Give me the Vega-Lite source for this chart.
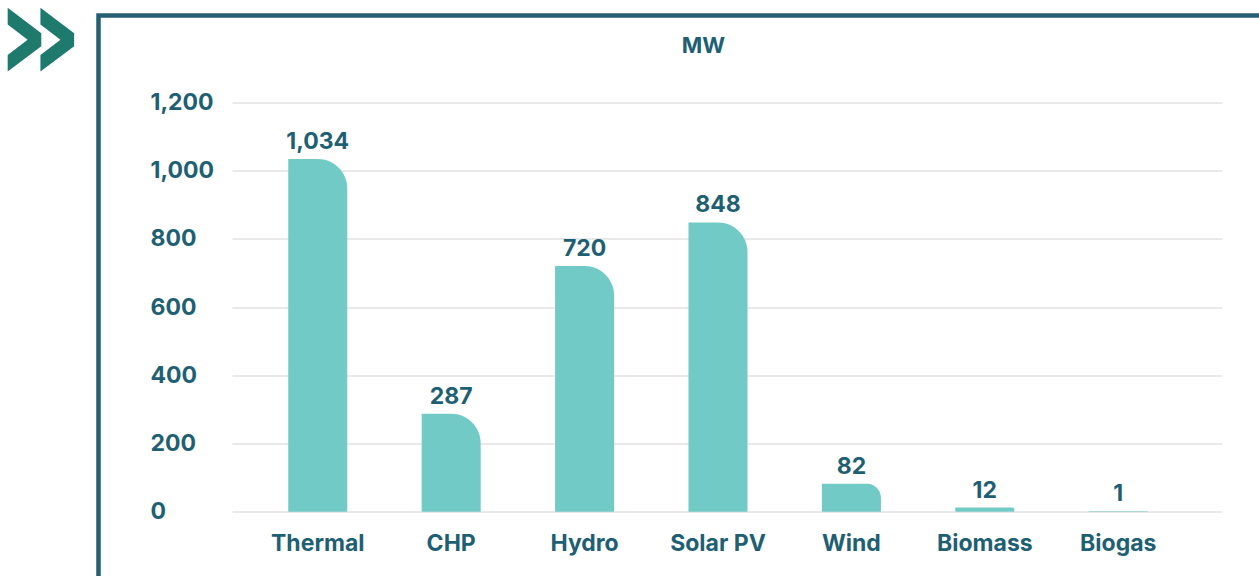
{
  "$schema": "https://vega.github.io/schema/vega-lite/v6.json",
  "width": 1165.5,
  "height": 565.5,
  "autosize": {"type": "none"},
  "padding": {"left": 98.5, "top": 15.5, "right": -5, "bottom": -5},
  "background": "white",
  "title": {
    "text": "»",
    "anchor": "start",
    "frame": "group",
    "orient": "top",
    "offset": 0,
    "dx": -104,
    "dy": 205,
    "fontSize": 140,
    "font": "DejaVu Sans",
    "fontWeight": "bold",
    "color": "#1f7a6e",
    "baseline": "alphabetic"
  },
  "config": {
    "view": {"stroke": "#245f74", "strokeWidth": 4.5},
    "font": "Inter"
  },
  "data": {
    "values": [
      {"source": "Thermal", "MW": 1034},
      {"source": "CHP", "MW": 287},
      {"source": "Hydro", "MW": 720},
      {"source": "Solar PV", "MW": 848},
      {"source": "Wind", "MW": 82},
      {"source": "Biomass", "MW": 12},
      {"source": "Biogas", "MW": 1}
    ]
  },
  "encoding": {
    "x": {
      "field": "source",
      "type": "nominal",
      "sort": null,
      "scale": {
        "domain": ["Thermal", "CHP", "Hydro", "Solar PV", "Wind", "Biomass", "Biogas"],
        "range": [133.5, 1123.2],
        "paddingInner": 0.5577,
        "paddingOuter": 0.488,
        "align": 0.432,
        "round": false
      },
      "axis": {
        "orient": "bottom",
        "offset": -69.3,
        "domain": false,
        "ticks": false,
        "tickSize": 0,
        "grid": false,
        "labelAngle": 0,
        "labelPadding": 39,
        "labelBaseline": "alphabetic",
        "labelFont": "Inter",
        "labelFontSize": 23,
        "labelFontWeight": "bold",
        "labelColor": "#1e5f74",
        "title": null
      }
    },
    "y": {
      "field": "MW",
      "type": "quantitative",
      "scale": {"domain": [-203.1, 1454.4], "nice": false, "zero": false},
      "axis": {
        "values": [0, 200, 400, 600, 800, 1000, 1200],
        "format": ",.0f",
        "offset": -133.5,
        "domain": false,
        "ticks": false,
        "tickSize": 0,
        "grid": true,
        "gridColor": "#e2e2e2",
        "gridWidth": 1.5,
        "labelAlign": "left",
        "labelPadding": 82,
        "labelBaseline": "middle",
        "labelFont": "Inter",
        "labelFontSize": 23,
        "labelFontWeight": "bold",
        "labelColor": "#1e5f74",
        "title": "MW",
        "titleAngle": 0,
        "titleX": 471,
        "titleY": 37,
        "titleAlign": "center",
        "titleBaseline": "alphabetic",
        "titleFont": "Inter",
        "titleFontSize": 22,
        "titleFontWeight": "bold",
        "titleColor": "#1e5f74"
      }
    }
  },
  "layer": [
    {
      "mark": {"type": "bar", "color": "#71cac6", "cornerRadiusTopRight": 32, "width": {"band": 1}},
      "encoding": {
        "y2": {"datum": 0}
      }
    },
    {
      "mark": {"type": "text", "baseline": "alphabetic", "dy": -10, "font": "Inter", "fontSize": 23, "fontWeight": "bold", "color": "#1e5f74"},
      "encoding": {
        "text": {"field": "MW", "type": "quantitative", "format": ","}
      }
    }
  ]
}
